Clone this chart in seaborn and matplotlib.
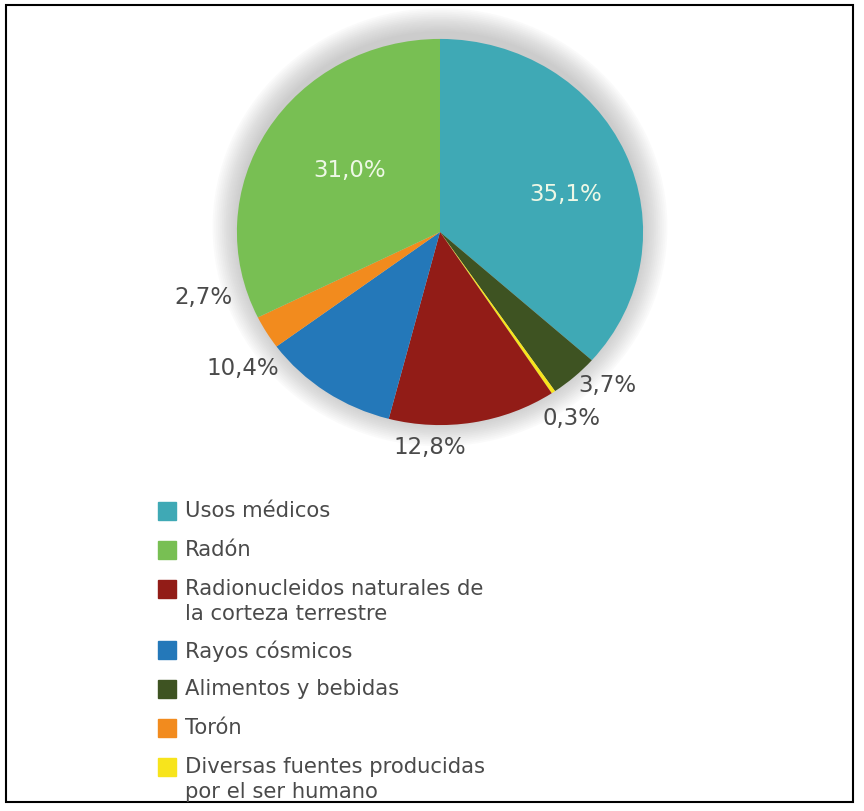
# Pie chart: origen de la exposición a la radiación
import matplotlib.pyplot as plt
import matplotlib.patches as mpatches
import numpy as np
import seaborn as sns

# data (clockwise from the top)
categorias = ["Usos médicos", "Alimentos y bebidas",
              "Diversas fuentes producidas\npor el ser humano",
              "Radionucleidos naturales de\nla corteza terrestre",
              "Rayos cósmicos", "Torón", "Radón"]
valores = [35.1, 3.7, 0.3, 12.8, 10.4, 2.7, 31.0]
etiquetas = ["35,1%", "3,7%", "0,3%", "12,8%", "10,4%", "2,7%", "31,0%"]
orden_leyenda = ["Usos médicos", "Radón",
                 "Radionucleidos naturales de\nla corteza terrestre",
                 "Rayos cósmicos", "Alimentos y bebidas", "Torón",
                 "Diversas fuentes producidas\npor el ser humano"]

colores = sns.color_palette(["#3fa9b5", "#3e5322", "#f7e41c", "#921c17",
                             "#2478b9", "#f28b1e", "#78bf53"])
# label placement: (distance from centre, angle offset from wedge middle, inside?)
pos_etiqueta = [(0.65, -6.5, True), (1.14, 4.7, False), (1.16, 0, False),
                (1.11, -12, False), (1.20, -20, False), (1.21, -15.4, False),
                (0.55, -4.5, True)]

sns.set_theme(style="white")
plt.rcParams['font.family'] = ['DejaVu Sans']

W, H = 864, 812
fig = plt.figure(figsize=(W / 100, H / 100), dpi=100)
ax = fig.add_axes([176 / W, 328 / H, 528 / W, 502 / H])

# soft halo round the pie
for r in np.linspace(1.0, 1.12, 14):
    ax.add_patch(mpatches.Ellipse((0, 0.025), 2 * r, 2 * r + 0.03, color="#8a8a8a",
                                  alpha=0.035, lw=0, zorder=0))

wedges, _ = ax.pie(valores, colors=colores, startangle=90, counterclock=False,
                   radius=1.0, wedgeprops=dict(linewidth=0))

for w, txt, (d, off, inside) in zip(wedges, etiquetas, pos_etiqueta):
    ang = np.deg2rad((w.theta1 + w.theta2) / 2 + off)
    ax.text(d * np.cos(ang), d * np.sin(ang), txt, ha="center", va="center",
            fontsize=16.5, color="#eef8e6" if inside else "#4a4a4a", zorder=5)

ax.set_xlim(-1.3, 1.3)
ax.set_ylim(-1.3, 1.3)
ax.set_aspect("auto")
ax.axis("off")

# legend: square + text, square lined up with the first line
y = 512
for c in orden_leyenda:
    col = colores[categorias.index(c)]
    fig.patches.append(mpatches.Rectangle((158 / W, 1 - (y + 9) / H), 18 / W, 18 / H,
                                          transform=fig.transFigure, color=col))
    fig.text(185 / W, 1 - (y - 11) / H, c, ha="left", va="top", fontsize=15.2,
             color="#4a4a4a", linespacing=1.3)
    y += 39 + 22 * c.count("\n")

# frame round the picture
fig.patches.append(mpatches.Rectangle((6 / W, 9 / H), 847 / W, 797 / H,
                                      transform=fig.transFigure, fill=False,
                                      edgecolor="black", linewidth=1.5))

fig.savefig("out.png", dpi=100)
